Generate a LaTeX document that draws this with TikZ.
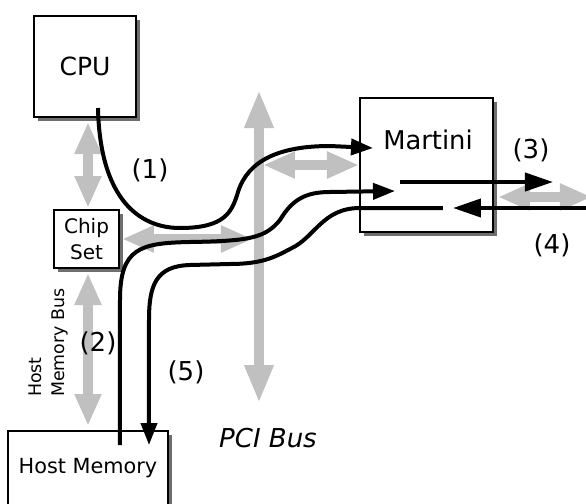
\documentclass[tikz,border=0pt]{standalone}
\usepackage{fontspec}
\setmainfont{DejaVu Sans}
\usetikzlibrary{arrows.meta,shadows}
\definecolor{busgray}{RGB}{192,192,192}
\definecolor{shade}{RGB}{110,110,110}
\tikzset{
  >={Triangle[length=11pt,width=8pt]},
  box/.style={draw=black,fill=white,line width=1pt,inner sep=0pt,
    drop shadow={shadow xshift=2pt,shadow yshift=-2pt,fill=shade,opacity=1}},
  bus/.style={draw=busgray,line width=5pt,
    {Triangle[length=16pt,width=12.5pt]}-{Triangle[length=16pt,width=12.5pt]}},
  bigbus/.style={bus,{Triangle[length=19pt,width=13.5pt]}-{Triangle[length=19pt,width=13.5pt]}},
  flow/.style={->,line width=2pt,draw=black},
  wide flow/.style={line width=2pt,draw=black,-{Triangle[length=14pt,width=9pt]}},
  tag/.style={font=\fontsize{13}{15}\selectfont},
}
\begin{document}
\begin{tikzpicture}[x=0.5pt,y=-0.5pt]
    \useasboundingbox (0,0) rectangle (586,504);
    \node[box,minimum width=51pt,minimum height=50.5pt,font=\fontsize{12.5}{15}\selectfont] (cpu) at (85,66.5) {CPU};
    \node[box,minimum width=32.5pt,minimum height=29pt,align=center,font=\fontsize{10}{13}\selectfont] (chip) at (86.5,239) {Chip\\Set};
    \node[box,minimum width=80pt,minimum height=37.5pt,font=\fontsize{10.4}{12}\selectfont] (mem) at (88,468.5) {Host Memory};
    \node[box,minimum width=66.5pt,minimum height=67pt] (mart) at (426.5,165) {};
    \node[font=\fontsize{12.9}{15}\selectfont] (martlbl) at (428,140) {Martini};
    \coordinate (pcitop) at (259,90); \coordinate (pcibot) at (259,403); \coordinate (net) at (592,197);
    \draw[bigbus] (pcibot) -- (pcitop);
    \draw[bus,shorten <=2pt,shorten >=0.5pt] ([xshift=1.5pt]cpu.south) -- ([xshift=1.5pt]cpu.south |- chip.north);
    \draw[bus,shorten <=2pt,shorten >=2pt] ([xshift=0.75pt]chip.south) -- ([xshift=0.75pt]chip.south |- mem.north);
    \draw[bus,shorten <=1pt,shorten >=3pt] (chip.east) -- (pcitop |- chip.east);
    \draw[bus,shorten <=2pt] (pcitop |- mart.west) -- (mart.west);
    \draw[bus,shorten <=2pt] (mart.east |- net) -- (net);
    \coordinate (cpuout) at (98,108); \coordinate (m1) at (373,148);
    \coordinate (memout) at (120,445); \coordinate (m2) at (395,191);
    \coordinate (m5) at (443,208); \coordinate (memin) at (149,445);
    \coordinate (txa) at (400,182); \coordinate (txb) at (553,182);
    \coordinate (rxa) at (590,208); \coordinate (rxb) at (453,208);
    \draw[flow] (cpuout) .. controls (100,200) and (140,228) .. (180,228) .. controls (225,228) and (232,212) .. (238,192) .. controls (248,160) and (280,146) .. (330,146) -- (m1);
    \draw[flow] (memout) -- (120,300) .. controls (120,248) and (140,243) .. (190,242) .. controls (250,241) and (265,238) .. (280,220) .. controls (292,200) and (305,192) .. (330,192) -- (m2);
    \draw[flow] (m5) -- (360,208) .. controls (322,208) and (315,238) .. (290,249) .. controls (275,257) and (262,264) .. (230,264) -- (190,265) .. controls (156,266) and (149,285) .. (149,320) -- (memin);
    \draw[wide flow] (txa) -- (txb);
    \draw[wide flow] (rxa) -- (rxb);
    \node[tag] (t1) at (150,170) {(1)};
    \node[tag] (t2) at (98,343) {(2)};
    \node[tag] (t3) at (531,150) {(3)};
    \node[tag] (t4) at (552,245) {(4)};
    \node[tag] (t5) at (186,372) {(5)};
    \node[font=\fontsize{13}{15}\selectfont\itshape] (pci) at (268,438) {PCI Bus};
    \node[rotate=90,anchor=west,align=left,font=\fontsize{8.7}{11.5}\selectfont] (hmb) at (48,404) {Host\\Memory Bus};
\end{tikzpicture}
\end{document}
